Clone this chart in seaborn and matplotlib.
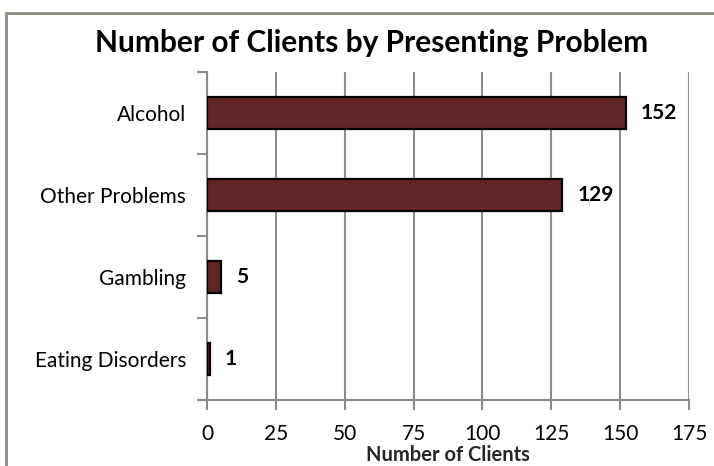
import matplotlib
matplotlib.use("Agg")
import matplotlib.pyplot as plt
import seaborn as sns
import pandas as pd
from matplotlib.lines import Line2D

problems = ["Alcohol", "Other Problems", "Gambling", "Eating Disorders"]
clients = [152, 129, 5, 1]
x_ticks = [0, 25, 50, 75, 100, 125, 150, 175]

df = pd.DataFrame({"Problem": problems, "Clients": clients})

sns.set_theme(style="white")
plt.rcParams["font.family"] = ["Lato", "DejaVu Sans"]

fig = plt.figure(figsize=(7.14, 4.66), dpi=100)
ax = fig.add_axes([207 / 714, 1 - 400 / 466, 482 / 714, 328 / 466])

bar_color = "#632523"
grid_color = "#8c8c8c"

sns.barplot(data=df, y="Problem", x="Clients", orient="h", color=bar_color,
            saturation=1, edgecolor="black", linewidth=1.6, width=0.4, ax=ax, zorder=3)

ax.set_xlim(0, 175)
ax.set_ylim(3.5, -0.5)
ax.set_xticks(x_ticks)
ax.set_xticklabels([str(t) for t in x_ticks], fontsize=15)
ax.set_yticks(range(len(problems)))
ax.set_yticklabels(problems, fontsize=15)
ax.set_yticks([-0.5, 0.5, 1.5, 2.5, 3.5], minor=True)

ax.xaxis.grid(True, color=grid_color, linewidth=1.5, zorder=0)
ax.set_axisbelow(True)
ax.tick_params(axis="y", which="major", length=0, pad=15, colors="black")
ax.tick_params(axis="y", which="minor", length=7, width=1.5, color=grid_color, direction="out", left=True)
ax.tick_params(axis="x", which="major", length=7, width=1.5, color=grid_color, direction="out",
               bottom=True, pad=10, labelcolor="black")

for side in ["top", "right"]:
    ax.spines[side].set_visible(False)
for side in ["left", "bottom"]:
    ax.spines[side].set_color(grid_color)
    ax.spines[side].set_linewidth(1.5)

ax.set_ylabel("")
ax.set_xlabel("Number of Clients", fontsize=14.5, fontweight="bold", labelpad=1)

for i, v in enumerate(clients):
    ax.annotate(str(v), xy=(v, i), xytext=(11, 0), textcoords="offset points",
                va="center", ha="left", fontsize=15, fontweight="bold", color="black")

fig.text(372 / 714, 1 - 43 / 466, "Number of Clients by Presenting Problem",
         ha="center", va="center", fontsize=21.5, fontweight="bold", color="black")

# outer chart frame
frame_color = "#8a8b80"
fig.add_artist(Line2D([5.5 / 714, 5.5 / 714], [0, 1 - 12.5 / 466], transform=fig.transFigure,
                      color=frame_color, linewidth=2))
fig.add_artist(Line2D([5.5 / 714, 1], [1 - 12.5 / 466, 1 - 12.5 / 466], transform=fig.transFigure,
                      color=frame_color, linewidth=2))

fig.savefig("out.png", dpi=100)
